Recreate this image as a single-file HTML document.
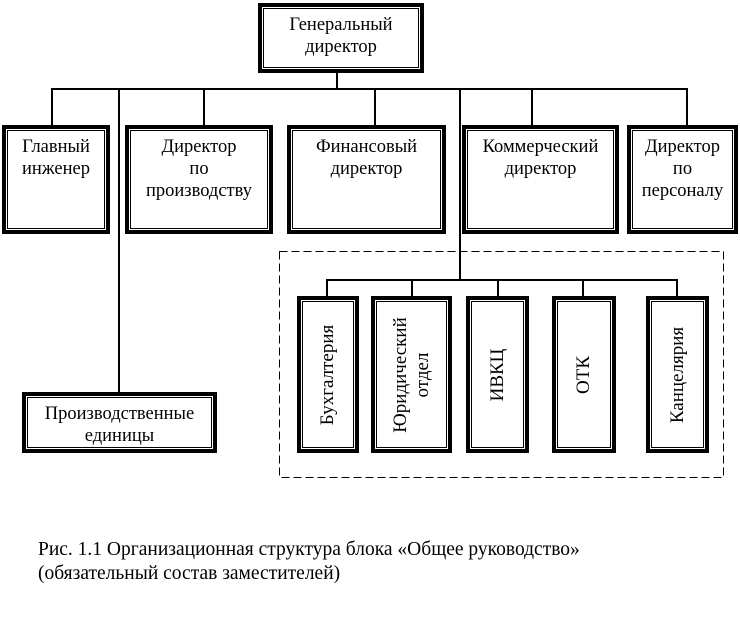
<!DOCTYPE html>
<html><head><meta charset="utf-8"><style>
body{margin:0;width:740px;height:633px;background:#fff;position:relative;overflow:hidden;font-family:"Liberation Serif",serif;font-size:18.5px;color:#000}
.b{position:absolute;border:4px solid #000;box-sizing:border-box;background:#fff}
.b::after{content:"";position:absolute;left:1px;top:1px;right:1px;bottom:1px;border:1px solid #000}
.t{position:absolute;left:-10px;right:-10px;text-align:center;line-height:22px;white-space:nowrap}
.l{position:absolute;background:#000}
.v{position:absolute;left:50%;top:50%;transform:translate(-50%,-50%) rotate(-90deg);white-space:nowrap;text-align:center;line-height:22px;font-size:19px}
</style></head><body>
<div class="l" style="left:336px;top:72px;width:2px;height:18px"></div>
<div class="l" style="left:51px;top:88px;width:637px;height:2px"></div>
<div class="l" style="left:51px;top:88px;width:2px;height:38px"></div>
<div class="l" style="left:203px;top:88px;width:2px;height:38px"></div>
<div class="l" style="left:374px;top:88px;width:2px;height:38px"></div>
<div class="l" style="left:531px;top:88px;width:2px;height:38px"></div>
<div class="l" style="left:686px;top:88px;width:2px;height:38px"></div>
<div class="l" style="left:118px;top:88px;width:2px;height:306px"></div>
<div class="l" style="left:459px;top:88px;width:2px;height:192px"></div>
<svg style="position:absolute;left:0;top:0" width="740" height="633"><rect x="279.5" y="251.5" width="444" height="226" fill="none" stroke="#000" stroke-width="1" stroke-dasharray="8,4"/></svg>
<div class="l" style="left:326px;top:279px;width:352px;height:2px"></div>
<div class="l" style="left:326px;top:279px;width:2px;height:18px"></div>
<div class="l" style="left:411px;top:279px;width:2px;height:18px"></div>
<div class="l" style="left:497px;top:279px;width:2px;height:18px"></div>
<div class="l" style="left:582px;top:279px;width:2px;height:18px"></div>
<div class="l" style="left:676px;top:279px;width:2px;height:18px"></div>

<div class="b" style="left:258px;top:3px;width:166px;height:70px"><div class="t" style="top:7px">Генеральный<br>директор</div></div>

<div class="b" style="left:2px;top:125px;width:108px;height:109px"><div class="t" style="top:7px">Главный<br>инженер</div></div>
<div class="b" style="left:125px;top:125px;width:148px;height:109px"><div class="t" style="top:7px">Директор<br>по<br>производству</div></div>
<div class="b" style="left:287px;top:125px;width:159px;height:109px"><div class="t" style="top:7px">Финансовый<br>директор</div></div>
<div class="b" style="left:462px;top:125px;width:157px;height:109px"><div class="t" style="top:7px">Коммерческий<br>директор</div></div>
<div class="b" style="left:627px;top:125px;width:111px;height:109px"><div class="t" style="top:7px">Директор<br>по<br>персоналу</div></div>

<div class="b" style="left:22px;top:392px;width:195px;height:61px"><div class="t" style="top:7px">Производственные<br>единицы</div></div>

<div class="b" style="left:297px;top:296px;width:62px;height:157px"><div class="v">Бухгалтерия</div></div>
<div class="b" style="left:371px;top:296px;width:81px;height:157px"><div class="v">Юридический<br>отдел</div></div>
<div class="b" style="left:466px;top:296px;width:63px;height:157px"><div class="v">ИВКЦ</div></div>
<div class="b" style="left:552px;top:296px;width:64px;height:157px"><div class="v">ОТК</div></div>
<div class="b" style="left:646px;top:296px;width:63px;height:157px"><div class="v">Канцелярия</div></div>

<div style="position:absolute;left:38px;top:538px;line-height:24px;font-size:19.5px;white-space:nowrap">Рис. 1.1 Организационная структура блока «Общее руководство»<br>(обязательный состав заместителей)</div>
</body></html>
